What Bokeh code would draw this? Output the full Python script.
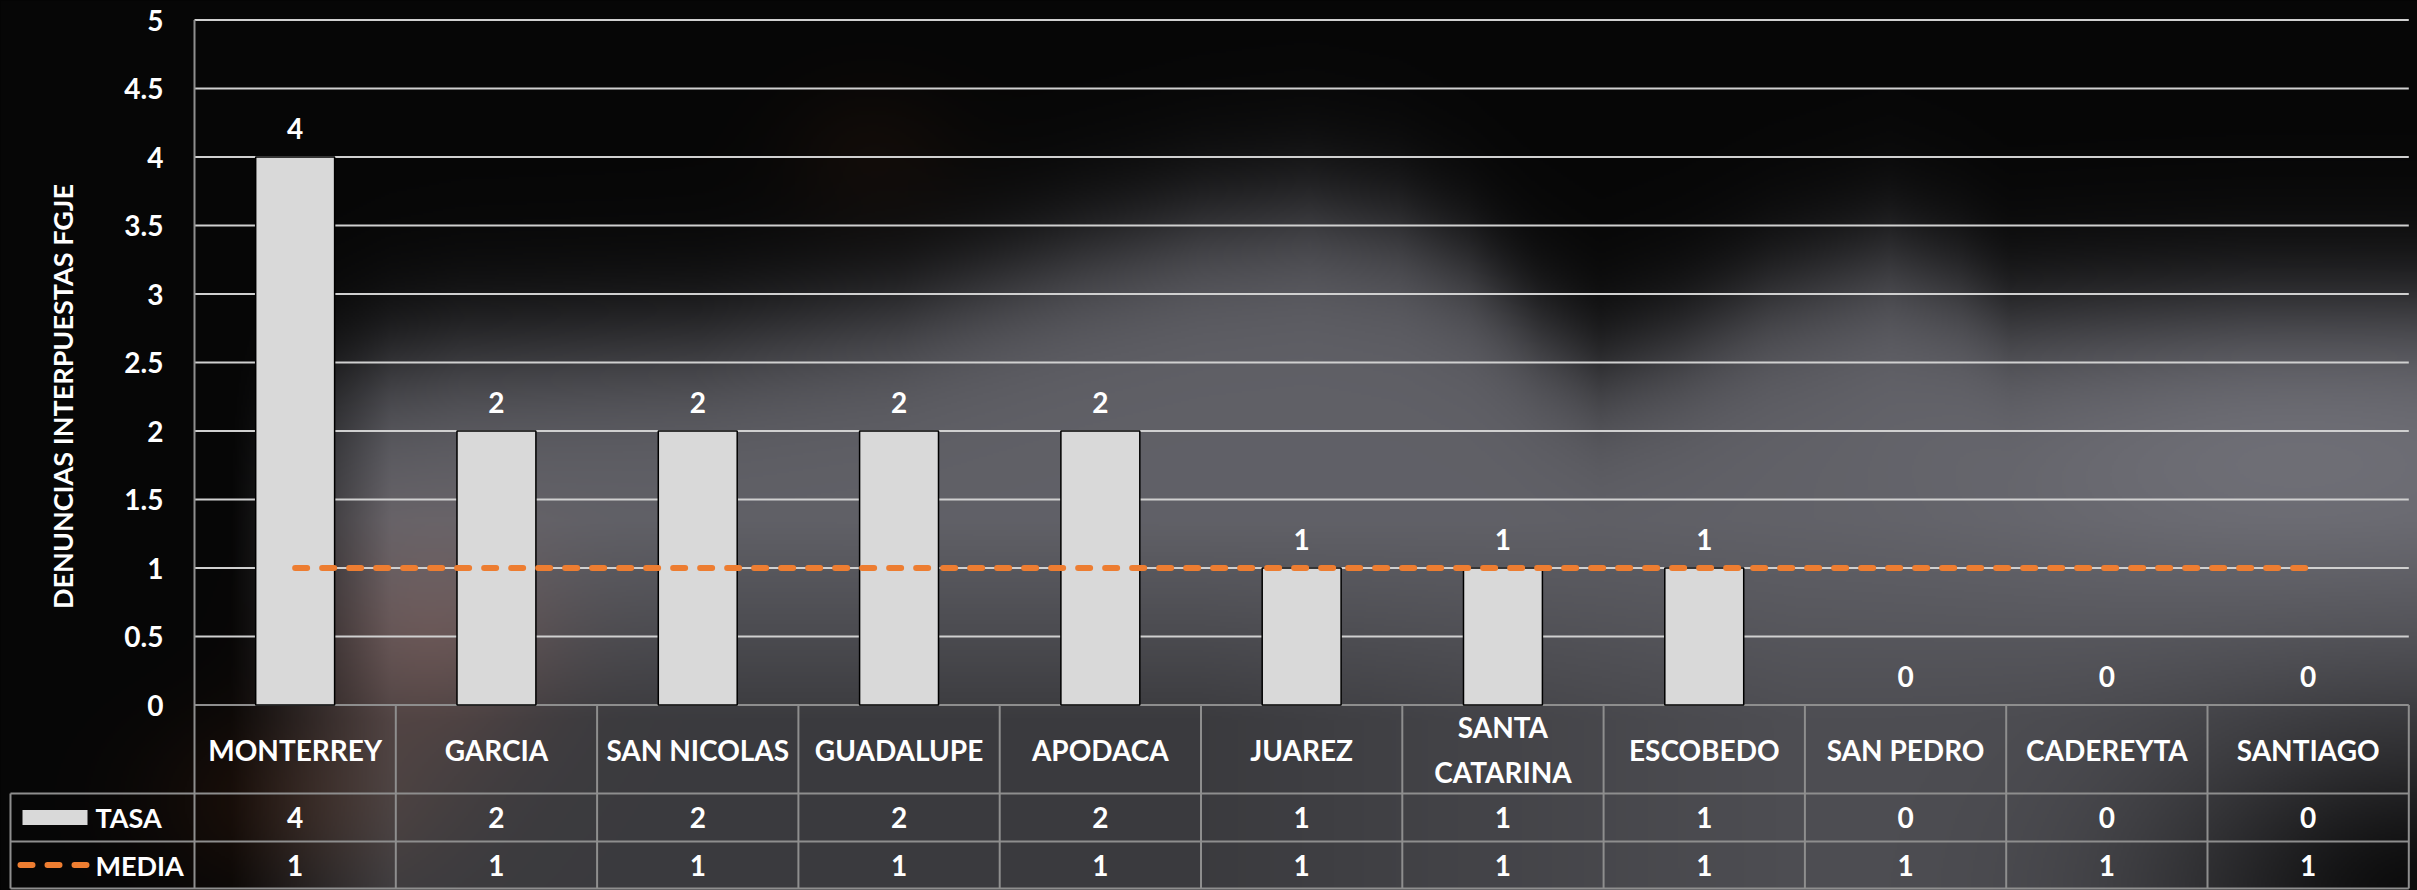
import numpy as np
from bokeh.plotting import figure
from bokeh.models import Range1d, ColumnDataSource
from bokeh.core.properties import value
from bokeh.embed import file_html
from bokeh.resources import INLINE

# ---------------- data ----------------
categories = ["MONTERREY", "GARCIA", "SAN NICOLAS", "GUADALUPE", "APODACA", "JUAREZ",
              "SANTA CATARINA", "ESCOBEDO", "SAN PEDRO", "CADEREYTA", "SANTIAGO"]
category_labels = ["MONTERREY", "GARCIA", "SAN NICOLAS", "GUADALUPE", "APODACA", "JUAREZ",
                   "SANTA\nCATARINA", "ESCOBEDO", "SAN PEDRO", "CADEREYTA", "SANTIAGO"]
tasa = [4, 2, 2, 2, 2, 1, 1, 1, 0, 0, 0]
media = [1, 1, 1, 1, 1, 1, 1, 1, 1, 1, 1]
y_ticks = [0, 0.5, 1, 1.5, 2, 2.5, 3, 3.5, 4, 4.5, 5]
y_tick_labels = ["0", "0.5", "1", "1.5", "2", "2.5", "3", "3.5", "4", "4.5", "5"]
series_names = ["TASA", "MEDIA"]
y_axis_title = "DENUNCIAS INTERPUESTAS FGJE"

# ---------------- layout (page pixels -> data units) ----------------
FIG_W, FIG_H = 2417, 890
MARGIN = 0
CAT_PX = 201.3          # pixels per category
UNIT_PX = 137.0         # pixels per value unit
X0_PAGE = 194           # page x of left plot edge
Y0_PAGE = 704.5         # page y of value 0


def px(page_x):
    return (page_x - X0_PAGE) / CAT_PX


def py(page_y):
    return (Y0_PAGE - page_y) / UNIT_PX


HEADER_BOTTOM = 793
TASA_BOTTOM = 841
MEDIA_BOTTOM = 888
LEGEND_LEFT = 10

FONT = value("Lato")
WHITE = "#ffffff"
BAR_COLOR = "#d9d9d9"
ORANGE = "#ed7d31"
GRID = "#d0d0d0"
TABLE_LINE = "#8e8e8e"

n = len(categories)
centers = [i + 0.5 for i in range(n)]

p = figure(width=FIG_W, height=FIG_H, output_backend="svg", toolbar_location=None,
           x_range=Range1d(px(MARGIN), px(MARGIN + FIG_W)),
           y_range=Range1d(py(MARGIN + FIG_H), py(MARGIN)),
           x_axis_location=None, y_axis_location=None, min_border=0)
p.grid.visible = False
p.outline_line_color = None
p.background_fill_color = "#050505"
p.border_fill_color = "#050505"

# ---------------- blurred photo-like background ----------------
H, Wd = FIG_H // 2, (FIG_W + 1) // 2
xs = MARGIN + (np.arange(Wd) + 0.5) * FIG_W / Wd
ys = MARGIN + (np.arange(H) + 0.5) * FIG_H / H
X, Y = np.meshgrid(xs, ys)
rx = [0, 200, 300, 460, 700, 900, 1080, 1200, 1310, 1400, 1470, 1540, 1600, 1680, 1770,
      1890, 1960, 2010, 2100, 2250, 2417]
ry = [520, 470, 380, 350, 340, 310, 255, 225, 212, 230, 268, 330, 370, 340, 295,
      258, 285, 318, 312, 305, 305]
ridge = np.interp(X, rx, ry)
mask = 1.0 / (1.0 + np.exp(-(Y - ridge) / 38.0))
left = np.clip((X - 230) / 160.0, 0, 1)
g = 91.0 * mask * left
dark = 1 - 0.42 * np.clip((Y - 520) / 200.0, 0, 1) * (1 - 0.5 * np.clip((X - 1200) / 600.0, 0, 1))
g = g * dark
g = g + 16 * np.exp(-(((X - 2300) / 320.0) ** 2 + ((Y - 430) / 160.0) ** 2)) * mask
br = np.exp(-(((X - 2430) / 260.0) ** 2 + ((Y - 900) / 170.0) ** 2))
g = g * (1 - 0.92 * br)
warm1 = np.exp(-(((X - 430) / 120.0) ** 2 + ((Y - 640) / 110.0) ** 2))
warm2 = np.exp(-(((X - 870) / 90.0) ** 2 + ((Y - 150) / 70.0) ** 2))
warm3 = np.exp(-(((X - 300) / 140.0) ** 2 + ((Y - 800) / 90.0) ** 2))
R = 6 + g + 30 * warm1 + 10 * warm2 + 22 * warm3
G = 6 + g + 12 * warm1 + 5 * warm2 + 10 * warm3
B = 6 + g * 1.07 + 7 * warm1 + 2 * warm2 + 4 * warm3
rgba = np.zeros((H, Wd, 4), dtype=np.uint8)
rgba[..., 0] = np.clip(R, 0, 255)
rgba[..., 1] = np.clip(G, 0, 255)
rgba[..., 2] = np.clip(B, 0, 255)
rgba[..., 3] = 255
img = np.flipud(rgba).copy().view(np.uint32).reshape(H, Wd)
p.image_rgba(image=[img], x=px(MARGIN), y=py(MARGIN + FIG_H),
             dw=px(MARGIN + FIG_W) - px(MARGIN), dh=py(MARGIN) - py(MARGIN + FIG_H))

# ---------------- grid lines ----------------
grid_y = [t for t in y_ticks if t > 0]
p.segment(x0=[0] * len(grid_y), x1=[n] * len(grid_y), y0=grid_y, y1=grid_y,
          line_color=GRID, line_width=2.2)

# ---------------- table lines ----------------
p.segment(x0=[0], x1=[n], y0=[0], y1=[0], line_color=TABLE_LINE, line_width=2)
p.segment(x0=[0], x1=[0], y0=[max(y_ticks)], y1=[py(MEDIA_BOTTOM)],
          line_color=TABLE_LINE, line_width=2)
vx = list(range(1, n + 1))
p.segment(x0=vx, x1=vx, y0=[0] * len(vx), y1=[py(MEDIA_BOTTOM)] * len(vx),
          line_color=TABLE_LINE, line_width=2)
hy = [py(HEADER_BOTTOM), py(TASA_BOTTOM), py(MEDIA_BOTTOM)]
p.segment(x0=[px(LEGEND_LEFT)] * 3, x1=[n] * 3, y0=hy, y1=hy,
          line_color=TABLE_LINE, line_width=2)
p.segment(x0=[px(LEGEND_LEFT)], x1=[px(LEGEND_LEFT)], y0=[py(HEADER_BOTTOM)],
          y1=[py(MEDIA_BOTTOM)], line_color=TABLE_LINE, line_width=2)

# ---------------- bars ----------------
src = ColumnDataSource(dict(x=centers, tasa=tasa, media=media,
                            tasa_txt=[str(v) for v in tasa],
                            media_txt=[str(v) for v in media],
                            cat=category_labels,
                            edge_alpha=[1.0 if v > 0 else 0.0 for v in tasa]))
p.vbar(x="x", top="tasa", bottom=0, width=0.392, source=src,
       fill_color=BAR_COLOR, line_color="#000000", line_width=1.5, line_alpha="edge_alpha")

# ---------------- media line ----------------
p.line(x="x", y="media", source=src, line_color=ORANGE, line_width=6,
       line_dash="12 15", line_cap="round")

# ---------------- data labels ----------------
p.text(x="x", y="tasa", text="tasa_txt", source=src, text_font=FONT,
       text_font_style="bold", text_font_size=value("28px"), text_color=WHITE,
       text_align="center", text_baseline="middle", y_offset=-29)

# ---------------- y axis ticks & title ----------------
p.text(x=[px(163)] * len(y_ticks), y=y_ticks, text=y_tick_labels, text_font=FONT,
       text_font_style="bold", text_font_size=value("28px"), text_color=WHITE,
       text_align="right", text_baseline="middle")
p.text(x=[px(62)], y=[py(396)], text=[y_axis_title], angle=np.pi / 2, text_font=FONT,
       text_font_style="bold", text_font_size=value("27px"), text_color=WHITE,
       text_align="center", text_baseline="middle")

# ---------------- table texts ----------------
p.text(x="x", y=py(749), text="cat", source=src, text_font=FONT,
       text_font_style="bold", text_font_size=value("28px"), text_color=WHITE,
       text_align="center", text_baseline="middle", text_line_height=1.3)
p.text(x="x", y=py((HEADER_BOTTOM + TASA_BOTTOM) / 2), text="tasa_txt", source=src,
       text_font=FONT, text_font_style="bold", text_font_size=value("28px"),
       text_color=WHITE, text_align="center", text_baseline="middle")
p.text(x="x", y=py((TASA_BOTTOM + MEDIA_BOTTOM) / 2), text="media_txt", source=src,
       text_font=FONT, text_font_style="bold", text_font_size=value("28px"),
       text_color=WHITE, text_align="center", text_baseline="middle")

# ---------------- legend column ----------------
tasa_row_y = (HEADER_BOTTOM + TASA_BOTTOM) / 2
media_row_y = (TASA_BOTTOM + MEDIA_BOTTOM) / 2
p.quad(left=[px(22)], right=[px(87)], top=[py(tasa_row_y - 7.5)], bottom=[py(tasa_row_y + 7.5)],
       fill_color=BAR_COLOR, line_color=None)
p.line(x=[px(20), px(88)], y=[py(media_row_y)] * 2, line_color=ORANGE, line_width=6,
       line_dash="12 15", line_cap="round")
p.text(x=[px(95), px(95)], y=[py(tasa_row_y), py(media_row_y)], text=series_names,
       text_font=FONT, text_font_style="bold", text_font_size=value("27px"),
       text_color=WHITE, text_align="left", text_baseline="middle")

html = file_html(p, INLINE, title="Denuncias")
html = html.replace("<head>", "<head><style>body{background:#050505;}</style>", 1)
open("out.html", "w").write(html)
